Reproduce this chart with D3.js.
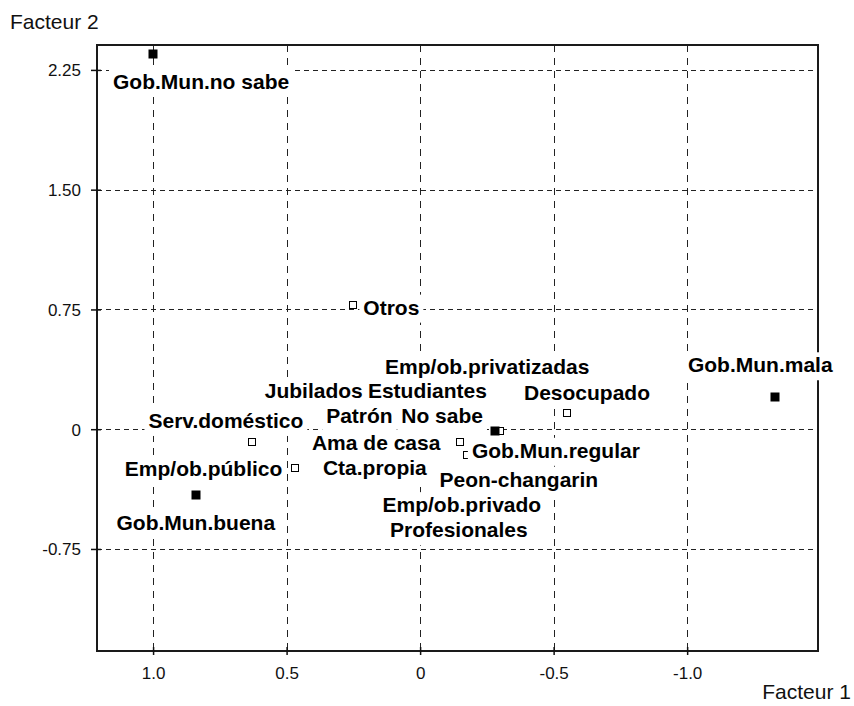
<!DOCTYPE html>
<html>
<head>
<meta charset="utf-8">
<script src="https://cdn.jsdelivr.net/npm/d3@7"></script>
<style>
  html, body { margin: 0; padding: 0; background: #fff; }
  svg { display: block; }
</style>
</head>
<body>
<svg id="chart" width="854" height="706"></svg>
<script>
// Factorial map: modalities on the first two factors (F1 reversed, left = positive)
const categories = [
  "Gob.Mun.no sabe", "Gob.Mun.buena", "Gob.Mun.regular", "Gob.Mun.mala",
  "Otros", "Serv.doméstico", "Emp/ob.público", "Ama de casa", "Desocupado",
  "Emp/ob.privatizadas", "Jubilados", "Estudiantes", "Patrón", "No sabe",
  "Cta.propia", "Peon-changarin", "Emp/ob.privado", "Profesionales"
];
const factor1 = [
  1.00, 0.84, -0.28, -1.33,
  0.25, 0.63, 0.47, -0.15, -0.55,
  -0.30, -0.04, -0.05, -0.02, -0.06,
  -0.10, -0.175, -0.22, -0.25
];
const factor2 = [
  2.35, -0.41, -0.01, 0.20,
  0.78, -0.08, -0.24, -0.08, 0.10,
  -0.01, 0.06, 0.05, -0.06, -0.10,
  -0.28, -0.16, -0.15, -0.12
];
// active modalities (filled) vs supplementary ones (open)
const active = [
  true, true, true, true,
  false, false, false, false, false,
  false, false, false, false, false,
  false, false, false, false
];

const xTicks = [1.0, 0.5, 0, -0.5, -1.0];
const xTickLabels = ["1.0", "0.5", "0", "-0.5", "-1.0"];
const yTicks = [2.25, 1.50, 0.75, 0, -0.75];
const yTickLabels = ["2.25", "1.50", "0.75", "0", "-0.75"];
const xTitle = "Facteur 1";
const yTitle = "Facteur 2";

// label placement (pixel offset of label centre / baseline from its marker)
const labelOffset = [
  [48, 35], [0, 35], [61, 27], [-15, -25],
  [38, 10], [-26, -14], [-91, 8], [-84, 8], [20, -13],
  [-13, -57], [-117, -22], [-6, -23], [-66, -16], [6, -22],
  [-72, 1], [52, 32], [-17, 59], [-28, 89]
];

const frameLeft = 97, frameRight = 818, frameTop = 45, frameBottom = 651;
const x = d3.scaleLinear().domain([1.21, -1.49]).range([frameLeft, frameRight]);
const y = d3.scaleLinear().domain([2.406, -1.389]).range([frameTop, frameBottom]);

const svg = d3.select("#chart");
const FONT = "'Liberation Sans', Arial, sans-serif";

// dashed grid
const grid = svg.append("g").attr("stroke", "#222").attr("stroke-width", 1).attr("fill", "none");
grid.selectAll("line.v").data(xTicks).join("line")
  .attr("class", "v")
  .attr("x1", d => Math.round(x(d)) + 0.5).attr("x2", d => Math.round(x(d)) + 0.5)
  .attr("y1", frameTop).attr("y2", frameBottom)
  .attr("stroke-dasharray", "7,6");
grid.selectAll("line.h").data(yTicks).join("line")
  .attr("class", "h")
  .attr("y1", d => Math.round(y(d)) + 0.5).attr("y2", d => Math.round(y(d)) + 0.5)
  .attr("x1", frameLeft).attr("x2", frameRight)
  .attr("stroke-dasharray", "5,4");

// frame
svg.append("rect")
  .attr("x", frameLeft).attr("y", frameTop)
  .attr("width", frameRight - frameLeft).attr("height", frameBottom - frameTop)
  .attr("fill", "none").attr("stroke", "#1a1a1a").attr("stroke-width", 2);

// axes
const xAxis = svg.append("g")
  .attr("transform", `translate(0,${frameBottom})`)
  .call(d3.axisBottom(x).tickValues(xTicks)
    .tickFormat((d, i) => xTickLabels[i]).tickSizeInner(4).tickSizeOuter(0));
xAxis.select(".domain").remove();
xAxis.selectAll(".tick line").attr("y1", -4).attr("stroke", "#111").attr("stroke-width", 1.5);
xAxis.selectAll(".tick text")
  .attr("y", 28).attr("dy", 0)
  .attr("font-family", FONT).attr("font-size", 17).attr("fill", "#111");

const yAxis = svg.append("g")
  .attr("transform", `translate(${frameLeft},0)`)
  .call(d3.axisLeft(y).tickValues(yTicks)
    .tickFormat((d, i) => yTickLabels[i]).tickSizeInner(6).tickSizeOuter(0));
yAxis.select(".domain").remove();
yAxis.selectAll(".tick line").attr("x1", 4).attr("stroke", "#111").attr("stroke-width", 1.5);
yAxis.selectAll(".tick text")
  .attr("x", -16).attr("dy", "0.35em")
  .attr("font-family", FONT).attr("font-size", 17).attr("fill", "#111");

// axis titles
svg.append("text").attr("x", 10).attr("y", 29)
  .attr("font-family", FONT).attr("font-size", 21).attr("fill", "#111")
  .text(yTitle);
svg.append("text").attr("x", 851).attr("y", 699).attr("text-anchor", "end")
  .attr("font-family", FONT).attr("font-size", 21).attr("fill", "#111")
  .text(xTitle);

const pts = categories.map((name, i) => ({
  name, f1: factor1[i], f2: factor2[i], active: active[i],
  dx: labelOffset[i][0], dy: labelOffset[i][1]
}));

// markers: supplementary (open) first, active (filled) on top
const marks = svg.append("g");
marks.selectAll("rect.open").data(pts.filter(d => !d.active)).join("rect")
  .attr("class", "open")
  .attr("x", d => Math.round(x(d.f1)) - 3.5).attr("y", d => Math.round(y(d.f2)) - 3.5)
  .attr("width", 7).attr("height", 7)
  .attr("fill", "#fff").attr("stroke", "#000").attr("stroke-width", 1);
marks.selectAll("rect.filled").data(pts.filter(d => d.active)).join("rect")
  .attr("class", "filled")
  .attr("x", d => Math.round(x(d.f1)) - 4.5).attr("y", d => Math.round(y(d.f2)) - 4.5)
  .attr("width", 9).attr("height", 9)
  .attr("fill", "#000");

// labels on white backgrounds
const labels = svg.append("g");
const boxes = labels.append("g");
const texts = labels.append("g");
texts.selectAll("text").data(pts).join("text")
  .attr("x", d => x(d.f1) + d.dx)
  .attr("y", d => y(d.f2) + d.dy)
  .attr("text-anchor", "middle")
  .attr("font-family", FONT).attr("font-weight", "bold").attr("font-size", 21)
  .attr("fill", "#000")
  .text(d => d.name)
  .each(function (d) { d.w = this.getComputedTextLength(); });
boxes.selectAll("rect").data(pts).join("rect")
  .attr("x", d => x(d.f1) + d.dx - d.w / 2 - 4)
  .attr("y", d => y(d.f2) + d.dy - 20)
  .attr("width", d => d.w + 8)
  .attr("height", 28)
  .attr("fill", "#fff");
</script>
</body>
</html>
